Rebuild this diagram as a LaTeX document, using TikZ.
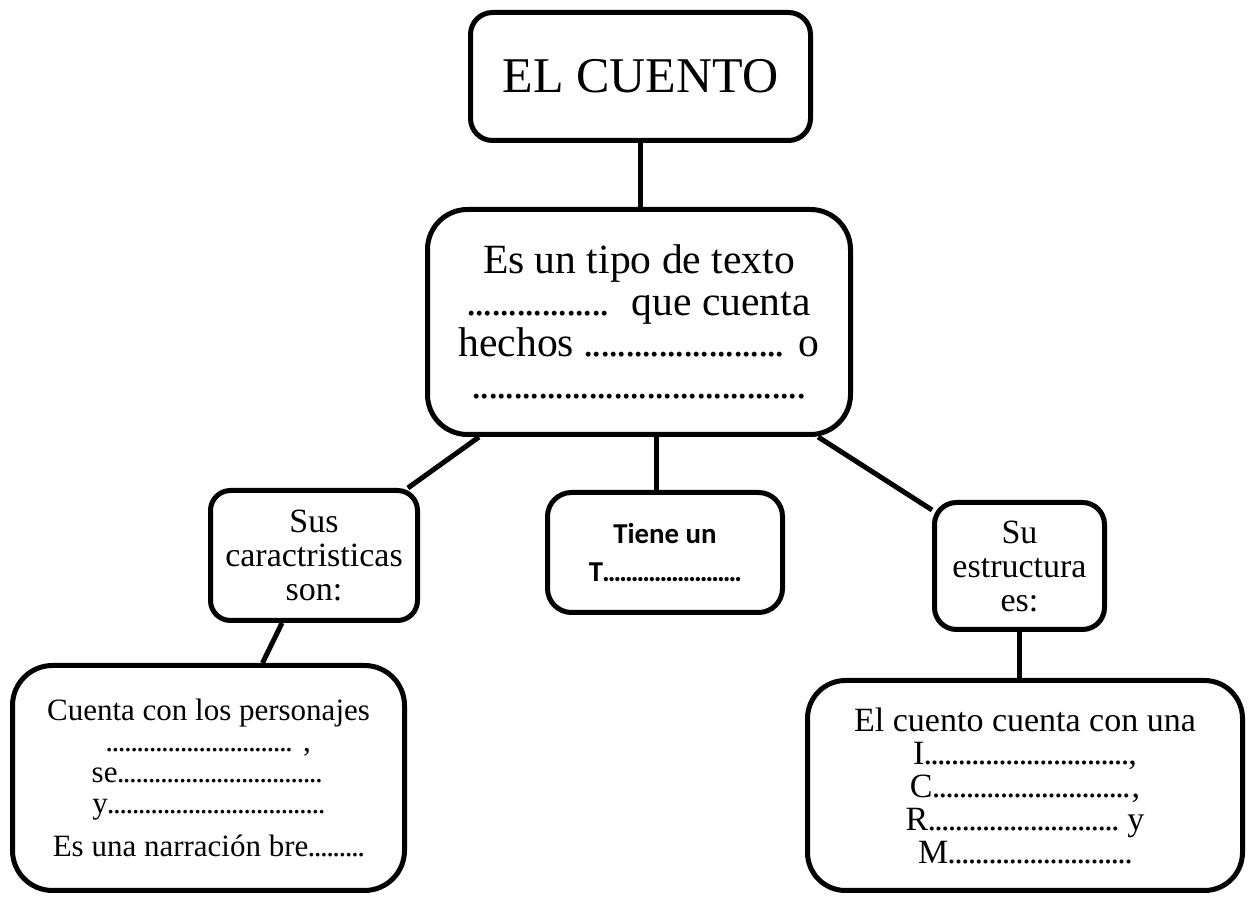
\documentclass[tikz,border=0pt]{standalone}
\usepackage{fontspec}
\setmainfont{Liberation Serif}
\newfontfamily\calibri{Carlito}
\newcommand{\blank}[1]{\hbox to #1{\leaders\hbox to .2em{\hss.\hss}\hfill}}

\begin{document}
\begin{tikzpicture}[x=0.5pt,y=-0.5pt,
    box/.style={draw,line width=2.5pt,inner sep=0pt,align=center},
  ]
  \useasboundingbox (0,0) rectangle (1255,897);
  \draw
    (640.5,76.5) node[box,rounded corners=11pt,minimum width=170pt,minimum height=64pt,
      font=\fontsize{25}{30}\selectfont] (cuento){EL CUENTO}
    (639,322) node[box,rounded corners=20pt,minimum width=211.5pt,minimum height=112.5pt,
      font=\fontsize{20.8}{20.8}\selectfont] (tipo){Es un tipo de texto\\
      \blank{3.45em}\hspace{.5em}que cuenta\\
      hechos \blank{4.9em} o\\
      \blank{8em}}
    (314,555.5) node[box,rounded corners=10pt,minimum width=103.5pt,minimum height=65pt,
      font=\fontsize{17}{17}\selectfont] (carac){Sus\\ caractristicas\\ son:}
    (665,552.5) node[box,rounded corners=12pt,minimum width=117.5pt,minimum height=60pt,
      font=\calibri\bfseries\fontsize{14.4}{19}\selectfont] (tiene){Tiene un\\ T\blank{4.8em}}
    (1019.5,566) node[box,rounded corners=11pt,minimum width=85pt,minimum height=63.5pt,
      font=\fontsize{17}{17}\selectfont] (estru){Su\\ estructura\\ es:}
    (208.5,778) node[box,rounded corners=20pt,minimum width=196pt,minimum height=112.5pt,
      font=\fontsize{15.5}{15.5}\selectfont] (person){Cuenta con los personajes\\
      \blank{6.1em} ,\\
      se\blank{6.7em}\\
      y\blank{7em}\\[6pt]
      Es una narración bre\blank{1.8em}}
    (1025,785.5) node[box,rounded corners=19pt,minimum width=217.5pt,minimum height=105pt,
      font=\fontsize{17}{16.5}\selectfont] (partes){El cuento cuenta con una\\
      I\blank{6em},\\
      C\blank{5.85em},\\
      R\blank{5.6em} y\\
      M\blank{5.4em}};
  \begin{scope}[line width=2.5pt]
    \draw (cuento.south) to (cuento.south |- tipo.north);
    \draw (tipo) to (carac);
    \draw ([xshift=-4.5pt]tiene.north) to ([xshift=-4.5pt]tiene.north |- tipo.south);
    \draw (tipo) to (estru);
    \draw ([xshift=-16pt]carac.south) to ([xshift=27pt]person.north);
    \draw (estru.south) to (estru.south |- partes.north);
  \end{scope}
\end{tikzpicture}
\end{document}
